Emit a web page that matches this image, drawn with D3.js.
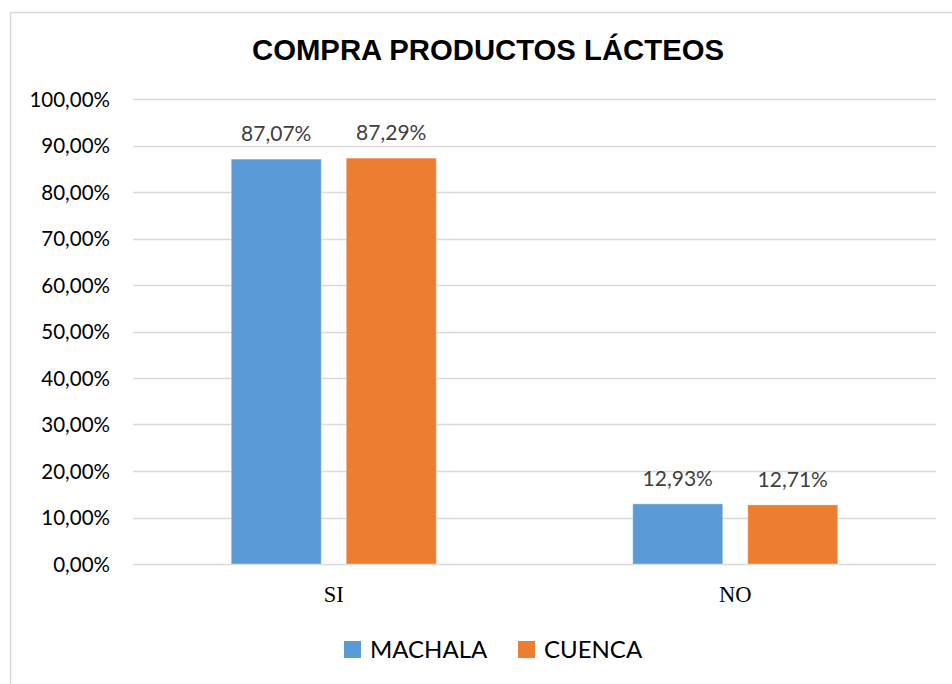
<!DOCTYPE html>
<html><head><meta charset="utf-8">
<script src="https://cdn.jsdelivr.net/npm/d3@7"></script>
<style>body{margin:0;background:#fff}svg{display:block}</style>
</head><body>
<svg id="c" width="952" height="684"></svg>
<script>
const categories = ["SI", "NO"];
const seriesNames = ["MACHALA", "CUENCA"];
const machala = [87.07, 12.93];
const cuenca = [87.29, 12.71];
const yTicks = [0, 10, 20, 30, 40, 50, 60, 70, 80, 90, 100];
const colors = ["#5B9BD5", "#ED7D31"];
const title = "COMPRA PRODUCTOS LÁCTEOS";

const values = [machala, cuenca];
const svg = d3.select("#c");
const sans = "Lato, 'Open Sans', sans-serif";

svg.append("rect").attr("x", 10.5).attr("y", 12.5).attr("width", 960).attr("height", 700)
  .attr("fill", "#fff").attr("stroke", "#d9d9d9").attr("stroke-width", 1.5);

svg.append("text").attr("x", 488).attr("y", 60).attr("text-anchor", "middle")
  .attr("font-family", "'Liberation Sans', Arial, sans-serif").attr("font-weight", "bold")
  .attr("font-size", 29.3).attr("fill", "#000").text(title);

const left = 133, right = 936;
const y = d3.scaleLinear().domain([0, 100]).range([564, 99]);
const x0 = d3.scaleBand().domain(categories).range([left, right]).padding(0);
const bw = x0.bandwidth();
const x1 = d3.scaleBand().domain(seriesNames).range([bw / 2 - 102.5, bw / 2 + 102.5]).paddingInner(2 - 205 / 115).paddingOuter(0);

const fmt = v => v.toFixed(2).replace(".", ",") + "%";

// gridlines
svg.append("g").selectAll("line").data(yTicks).join("line")
  .attr("x1", left).attr("x2", right)
  .attr("y1", d => Math.round(y(d)) + 0.5).attr("y2", d => Math.round(y(d)) + 0.5)
  .attr("stroke", "#d9d9d9").attr("stroke-width", 1.5);

// y axis labels
const yAxis = d3.axisLeft(y).tickValues(yTicks).tickFormat(fmt).tickSize(0).tickPadding(0);
const ga = svg.append("g").attr("transform", `translate(110,0)`).call(yAxis);
ga.select(".domain").remove();
ga.selectAll("text").attr("font-family", sans).attr("font-size", 20.5).attr("fill", "#000").attr("dy", "0.36em");

// bars
const groups = svg.append("g").selectAll("g").data(categories).join("g")
  .attr("transform", d => `translate(${x0(d)},0)`);
groups.selectAll("rect").data((c, i) => seriesNames.map((s, j) => ({s, j, v: values[j][i]}))).join("rect")
  .attr("x", d => x1(d.s)).attr("width", x1.bandwidth())
  .attr("y", d => y(d.v)).attr("height", d => y(0) - y(d.v))
  .attr("fill", d => colors[d.j]).attr("stroke", "#fff").attr("stroke-opacity", 0.35).attr("stroke-width", 1);
groups.selectAll("text.val").data((c, i) => seriesNames.map((s, j) => ({s, j, v: values[j][i]}))).join("text")
  .attr("class", "val")
  .attr("x", d => x1(d.s) + x1.bandwidth() / 2).attr("y", d => y(d.v) - 18)
  .attr("text-anchor", "middle").attr("font-family", sans).attr("font-size", 21)
  .attr("fill", "#404040").text(d => fmt(d.v));

// category axis
const xAxis = d3.axisBottom(x0).tickSize(0).tickPadding(0);
const gx = svg.append("g").attr("transform", `translate(0,${y(0)})`).call(xAxis);
gx.select(".domain").remove();
gx.selectAll("text").attr("font-family", "'Liberation Serif', 'Times New Roman', serif")
  .attr("font-size", 22.5).attr("fill", "#000").attr("dy", "38");

// legend
const legX = [344, 518];
const leg = svg.append("g").selectAll("g").data(seriesNames).join("g")
  .attr("transform", (d, i) => `translate(${legX[i]},641)`);
leg.append("rect").attr("width", 17).attr("height", 17).attr("fill", (d, i) => colors[i]);
leg.append("text").attr("x", 26).attr("y", 17).attr("font-family", sans).attr("font-size", 24)
  .attr("fill", "#000").text(d => d);
</script>
</body></html>
